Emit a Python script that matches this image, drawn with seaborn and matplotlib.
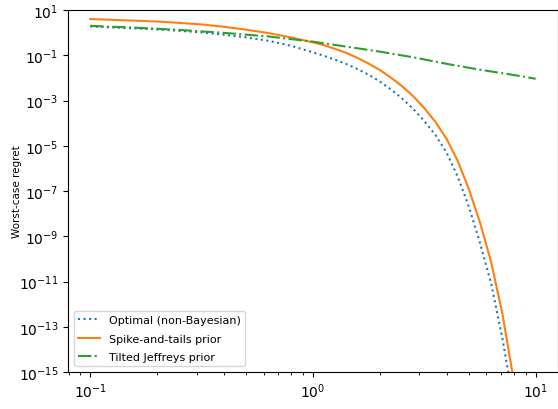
import numpy as np
import pandas as pd
import matplotlib
matplotlib.use("Agg")
import matplotlib.pyplot as plt
import seaborn as sns
from matplotlib.ticker import NullLocator

# ---- data (y given as log10 of worst-case regret) ----
x_main = [0.1, 0.1259, 0.1585, 0.1995, 0.2512, 0.3162, 0.3981, 0.5012, 0.631, 0.7943,
          1.0, 1.122, 1.259, 1.413, 1.585, 1.778, 1.995, 2.239, 2.512, 2.818,
          3.162, 3.548, 3.981, 4.467, 5.012, 5.623, 6.310, 7.079, 7.943]
optimal_log = [0.27, 0.23, 0.19, 0.14, 0.08, 0.01, -0.09, -0.21, -0.36, -0.58,
               -0.87, -1.03, -1.20, -1.39, -1.61, -1.86, -2.16, -2.51, -2.91, -3.37,
               -3.91, -4.53, -5.31, -6.37, -7.70, -9.30, -11.1, -13.5, -16.3]
spike_log = [0.60, 0.565, 0.53, 0.49, 0.43, 0.36, 0.26, 0.13, -0.02, -0.21,
             -0.43, -0.56, -0.72, -0.90, -1.12, -1.37, -1.65, -1.99, -2.37, -2.81,
             -3.34, -3.95, -4.70, -5.68, -6.92, -8.40, -10.15, -12.40, -15.30]
x_jeff = [0.1, 0.1585, 0.2512, 0.3981, 0.631, 1.0, 1.413, 1.995, 2.818, 3.981,
          5.623, 7.943, 10.0]
jeffreys_log = [0.30, 0.22, 0.12, -0.01, -0.17, -0.40, -0.62, -0.84, -1.09, -1.38,
                -1.64, -1.87, -2.04]

labels = ["Optimal (non-Bayesian)", "Spike-and-tails prior", "Tilted Jeffreys prior"]
colors = ["#1f77b4", "#ff7f0e", "#2ca02c"]
styles = [":", "-", "-."]
yticks_exp = [1, -1, -3, -5, -7, -9, -11, -13, -15]

plt.rcParams["mathtext.fontset"] = "cm"
plt.rcParams["font.family"] = ["DejaVu Sans"]

series = [
    pd.DataFrame({"x": x_main, "y": 10.0 ** np.array(optimal_log)}),
    pd.DataFrame({"x": x_main, "y": 10.0 ** np.array(spike_log)}),
    pd.DataFrame({"x": x_jeff, "y": 10.0 ** np.array(jeffreys_log)}),
]

fig = plt.figure(figsize=(5.58, 4.10), dpi=100)
ax = fig.add_axes([68 / 558, 37 / 410, 490 / 558, 362 / 410])

for df, lab, col, ls in zip(series, labels, colors, styles):
    sns.lineplot(data=df, x="x", y="y", ax=ax, color=col, linestyle=ls,
                 linewidth=1.5, label=lab, estimator=None)

ax.set_xscale("log")
ax.set_yscale("log")
ax.set_xlim(10 ** -1.1, 10 ** 1.1)
ax.set_ylim(1e-15, 1e1)
ax.set_yticks([10.0 ** e for e in yticks_exp])
ax.yaxis.set_minor_locator(NullLocator())
ax.tick_params(labelsize=10)

ax.set_xlabel(r"Normalized penalty weight $\lambda/\sqrt{L}$", fontsize=8, labelpad=7)
ax.set_ylabel("Worst-case regret", fontsize=7.5)
ax.yaxis.set_label_coords(-0.094, 0.5)
ax.legend(loc="lower left", fontsize=8, labelspacing=0.75)

fig.savefig("out.png", dpi=100)
